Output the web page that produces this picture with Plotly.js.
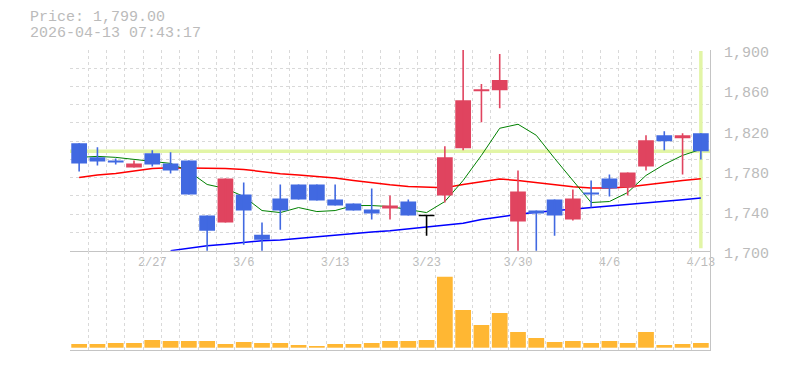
<!DOCTYPE html>
<html><head><meta charset="utf-8">
<script src="https://cdn.plot.ly/plotly-3.0.1.min.js"></script>
<style>html,body{margin:0;padding:0;background:#fff;}#chart{width:785px;height:370px;}</style>
</head><body><div id="chart"></div>
<script>
// ---- data ----
const dates = ['2/20','2/24','2/25','2/26','2/27','3/2','3/3','3/4','3/5','3/6','3/9','3/10','3/11','3/12','3/13','3/16','3/17','3/18','3/19','3/23','3/24','3/25','3/26','3/27','3/30','3/31','4/1','4/2','4/3','4/6','4/7','4/8','4/9','4/10','4/13'];
const openP  = [1807,1793,1790,1783,1797,1787,1790,1735,1728,1756,1716,1752,1766,1766,1751,1747,1741,1742,1749,1735,1755,1802,1859,1860,1729,1740,1751,1731,1758,1772,1763,1784,1815,1812,1817];
const highP  = [1807,1803,1792,1790,1800,1798,1790,1735,1772,1768,1728,1766,1766,1766,1766,1747,1762,1755,1751,1735,1804,1900,1866,1896,1780,1740,1751,1761,1770,1776,1778,1815,1819,1817,1817];
const lowP   = [1779,1785,1786,1783,1784,1777,1756,1698,1728,1706,1698,1721,1751,1750,1745,1740,1731,1731,1735,1715,1748,1800,1828,1842,1698,1698,1715,1730,1743,1754,1755,1780,1800,1776,1791];
const closeP = [1787,1789,1788,1787,1786,1780,1756,1720,1772,1740,1711,1740,1751,1750,1745,1740,1737,1745,1735,1735,1793,1850,1861,1870,1759,1737,1735,1752,1756,1762,1778,1810,1809,1815,1799];
const maShort = [1793,1794,1793,1791,1789,1787,1779,1766,1762,1754,1740,1738,1743,1739,1740,1745,1745,1744,1741,1738,1749,1770,1795,1822,1826,1815,1792,1770,1748,1749,1758,1775,1786,1795,1801];
const maMid   = [1773,1775.5,1777,1779.5,1782,1782.7,1782.7,1782,1782,1781,1778.5,1776.7,1775.4,1774,1772.4,1770,1767.7,1765.7,1764,1763,1762.7,1766,1769,1771.4,1770,1767.7,1765.7,1763.7,1762.4,1762.4,1763.4,1765.7,1768,1770,1771.7];
const maLong  = [null,null,null,null,null,1700,1702.7,1705,1706.4,1708,1710,1710.7,1712.4,1714,1715.5,1717.4,1718.7,1720,1721.7,1723.4,1725.2,1727.4,1731,1734,1736.3,1738.2,1739.7,1741.2,1742.7,1744.5,1746.2,1747.7,1749.4,1750.8,1752.5];
const volume  = [37,37,47,47,77,67,67,67,37,57,47,47,27,17,37,37,47,67,67,77,710,377,227,347,157,97,57,67,47,67,47,157,27,37,47];
const tickLabels = ['2/27','3/6','3/13','3/23','3/30','4/6','4/13'];
const priceTicks = [1700,1740,1780,1820,1860,1900];
const timestamp = '2026-04-13 07:43:17';

// ---- styling ----
const UP='#e0445f', DOWN='#4169e1', FLAT='#000000', VOL='#ffb733', BAND='#e2f5a6';
const GRID='#d9d9d9', AXIS='#c4c4c4', TXT='#bbbbbb';
const FONT='Liberation Mono, DejaVu Sans Mono, monospace';
const yRange = [1700,1900];

const N = dates.length;
const idx = dates.map((d,i)=>i);
const dir = closeP.map((c,i)=> c>openP[i]?1:(c<openP[i]?-1:0));
const colorOf = d => d>0?UP:(d<0?DOWN:FLAT);
const bodyBase = closeP.map((c,i)=> dir[i]===0 ? c-0.75 : Math.min(c,openP[i]));
const bodyLen  = closeP.map((c,i)=> dir[i]===0 ? 1.5 : Math.abs(c-openP[i]));
const last = closeP[N-1];

function wickTrace(d){
  const xs=[], ys=[];
  idx.forEach(i=>{ if(dir[i]===d){ xs.push(i,i,null); ys.push(lowP[i],highP[i],null);} });
  return {type:'scatter',mode:'lines',x:xs,y:ys,xaxis:'x',yaxis:'y3',
    line:{color:colorOf(d),width:1.6},hoverinfo:'skip',connectgaps:false};
}
function maTrace(vals,color,w){
  return {type:'scatter',mode:'lines',x:idx,y:vals,xaxis:'x',yaxis:'y',
    line:{color:color,width:w},hoverinfo:'skip'};
}

const traces = [
  // current-price marker lines (horizontal at last close, vertical at last session)
  {type:'scatter',mode:'lines',x:[-0.5,N-0.5],y:[last,last],xaxis:'x',yaxis:'y',
    line:{color:BAND,width:3.5},hoverinfo:'skip'},
  {type:'scatter',mode:'lines',x:[N-1,N-1],y:[yRange[0]+2.5,yRange[1]-1],xaxis:'x',yaxis:'y',
    line:{color:BAND,width:3.5},hoverinfo:'skip'},
  maTrace(maLong,'#0000ff',1.5),
  maTrace(maMid,'#ff0000',1.5),
  maTrace(maShort,'#008000',1),
  {type:'scatter',x:[],y:[],xaxis:'x',yaxis:'y4',hoverinfo:'skip'},
  {type:'bar',x:idx,y:bodyLen,base:bodyBase,width:0.86,xaxis:'x',yaxis:'y3',
    marker:{color:dir.map(colorOf),line:{width:0}},hoverinfo:'skip'},
  wickTrace(1), wickTrace(-1), wickTrace(0),
  {type:'bar',x:idx,y:volume,width:0.86,xaxis:'x2',yaxis:'y2',
    marker:{color:VOL,line:{width:0}},hoverinfo:'skip'}
];

const minorGrid = {tickmode:'linear',tick0:-0.5,dtick:1,showgrid:true,gridcolor:GRID,griddash:'3px,3px',gridwidth:1,ticks:''};
const splitY = 0.331;

const layout = {
  width:785,height:370,margin:{l:70,r:75,t:50,b:20,pad:0},
  paper_bgcolor:'#ffffff',plot_bgcolor:'#ffffff',showlegend:false,barmode:'overlay',
  font:{family:FONT,color:TXT},
  xaxis:{anchor:'y',range:[-0.5,N-0.5],tickmode:'array',
    tickvals:tickLabels.map(t=>dates.indexOf(t)),ticktext:tickLabels,
    ticks:'',showgrid:false,zeroline:false,showline:true,linecolor:AXIS,linewidth:1,
    tickfont:{family:FONT,size:12,color:TXT},minor:minorGrid,fixedrange:true},
  xaxis2:{anchor:'y2',range:[-0.5,N-0.5],showticklabels:false,ticks:'',showgrid:false,
    zeroline:false,showline:true,linecolor:AXIS,linewidth:1,minor:minorGrid,fixedrange:true},
  yaxis:{domain:[splitY,1],anchor:'x',range:yRange,side:'right',tickmode:'array',
    tickvals:priceTicks,tickformat:',d',ticks:'',showgrid:false,zeroline:false,
    showline:true,linecolor:AXIS,linewidth:1,tickfont:{family:FONT,size:15,color:TXT},
    ticklabelstandoff:10,ticklabelshift:2,fixedrange:true},
  yaxis3:{overlaying:'y',anchor:'x',range:yRange,visible:false,fixedrange:true},
  yaxis4:{overlaying:'y',anchor:'x',range:[0,11],tickmode:'linear',tick0:0,dtick:1,
    showgrid:true,gridcolor:GRID,griddash:'3px,3px',gridwidth:1,showticklabels:false,
    ticks:'',zeroline:false,showline:false,fixedrange:true},
  yaxis2:{domain:[0,splitY],anchor:'x2',range:[-23,970],side:'right',showticklabels:false,
    ticks:'',showgrid:false,zeroline:false,showline:true,linecolor:AXIS,linewidth:1,fixedrange:true},
  annotations:[
    {xref:'paper',yref:'paper',x:-0.0656,y:1.1067,xanchor:'left',yanchor:'middle',showarrow:false,
      text:'Price: '+last.toLocaleString('en-US',{minimumFractionDigits:2,maximumFractionDigits:2}),
      font:{family:FONT,size:15,color:TXT}},
    {xref:'paper',yref:'paper',x:-0.0656,y:1.055,xanchor:'left',yanchor:'middle',showarrow:false,
      text:timestamp,font:{family:FONT,size:15,color:TXT}}
  ]
};

Plotly.newPlot('chart',traces,layout,{staticPlot:true,displayModeBar:false});
</script></body></html>
